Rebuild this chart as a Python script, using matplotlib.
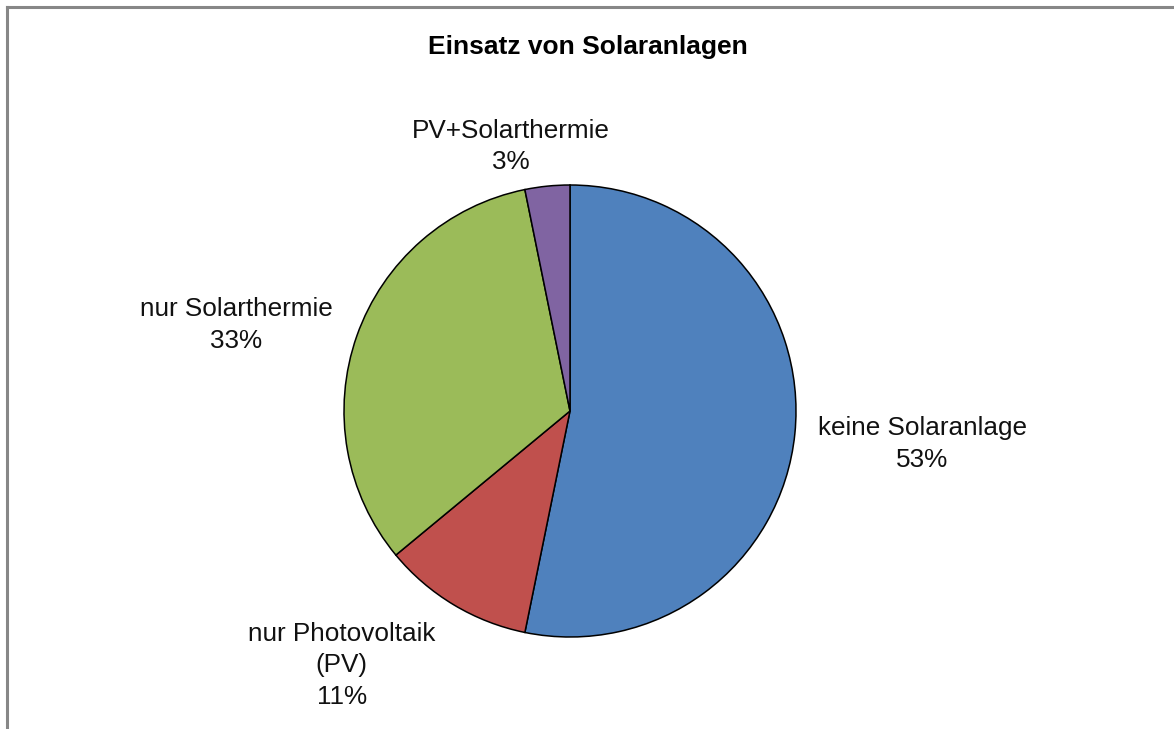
import matplotlib.pyplot as plt
import numpy as np

plt.rcParams['font.family'] = ['Liberation Sans', 'DejaVu Sans']

title = 'Einsatz von Solaranlagen'
categories = ['keine Solaranlage', 'nur Photovoltaik\n(PV)', 'nur Solarthermie', 'PV+Solarthermie']
shares = [53.2, 10.8, 32.8, 3.2]  # percent
colors = ['#4F81BD', '#C0504D', '#9BBB59', '#8064A2']

# label centres in pie units (radius = 1), as placed in the original
label_pos = [(1.56, -0.145), (-1.01, -1.125), (-1.478, 0.38), (-0.26, 1.17)]

fig = plt.figure(figsize=(11.74, 7.29), dpi=100)
fig.patch.set_facecolor('white')

# frame lines on top and left only (chart area is cropped)
fig.add_artist(plt.Line2D([7/1174, 1], [1-7/729, 1-7/729], color='#878787', lw=2.2))
fig.add_artist(plt.Line2D([7/1174, 7/1174], [0, 1-7/729], color='#878787', lw=2.2))

ax = fig.add_axes([(570-226)/1174, (729-637)/729, 452/1174, 452/729])
ax.pie(shares, colors=colors, startangle=90, counterclock=False, radius=1,
       wedgeprops=dict(edgecolor='black', linewidth=1.1))
ax.set_xlim(-1, 1)
ax.set_ylim(-1, 1)
ax.set_aspect('equal')
ax.axis('off')

for name, val, (x, y) in zip(categories, shares, label_pos):
    ax.text(x, y, f'{name}\n{round(val):.0f}%', ha='center', va='center',
            fontsize=18.8, linespacing=1.4, clip_on=False, color='#111111')

fig.text(588/1174, 1-47/729, title, ha='center', va='center',
         fontsize=19, fontweight='bold')

fig.savefig('out.png', dpi=100, facecolor='white')
